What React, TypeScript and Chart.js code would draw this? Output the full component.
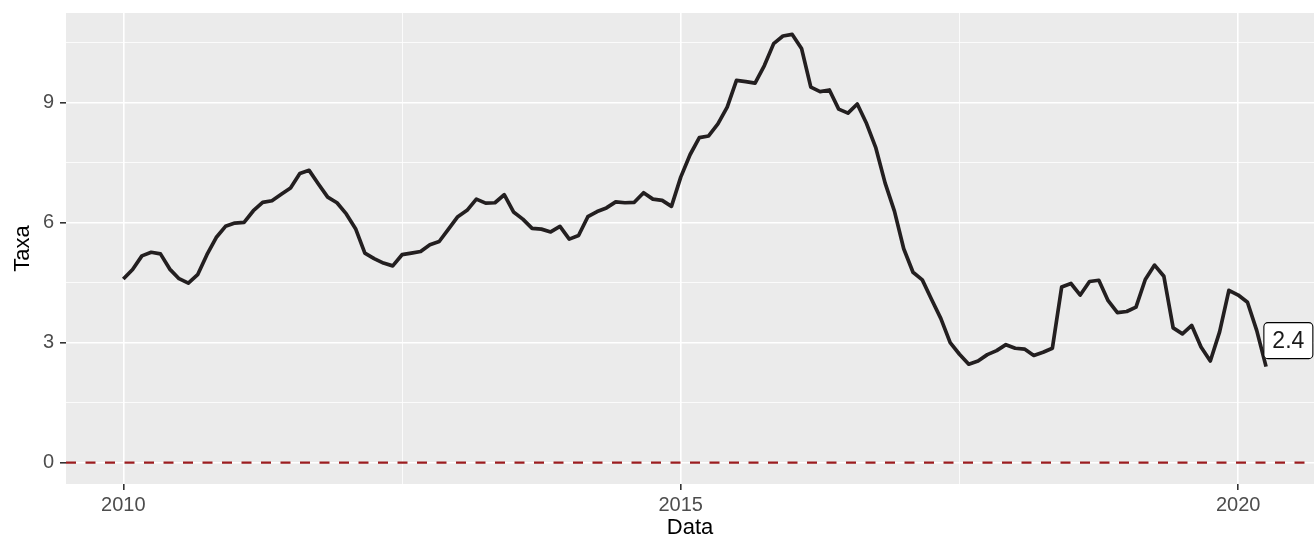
import React, { useEffect, useRef } from "react";
import { Chart, registerables } from "chart.js";

Chart.register(...registerables);

// IPCA 12-month rate, monthly, Jan 2010 .. Apr 2020
const startYear = 2010;
const rate2010 = [4.59, 4.83, 5.17, 5.26, 5.22, 4.84, 4.60, 4.49, 4.70, 5.20, 5.63, 5.91];
const rate2011 = [5.99, 6.01, 6.30, 6.51, 6.55, 6.71, 6.87, 7.23, 7.31, 6.97, 6.64, 6.50];
const rate2012 = [6.22, 5.85, 5.24, 5.10, 4.99, 4.92, 5.20, 5.24, 5.28, 5.45, 5.53, 5.84];
const rate2013 = [6.15, 6.31, 6.59, 6.49, 6.50, 6.70, 6.27, 6.09, 5.86, 5.84, 5.77, 5.91];
const rate2014 = [5.59, 5.68, 6.15, 6.28, 6.37, 6.52, 6.50, 6.51, 6.75, 6.59, 6.56, 6.41];
const rate2015 = [7.14, 7.70, 8.13, 8.17, 8.47, 8.89, 9.56, 9.53, 9.49, 9.93, 10.48, 10.67];
const rate2016 = [10.71, 10.36, 9.39, 9.28, 9.32, 8.84, 8.74, 8.97, 8.48, 7.87, 6.99, 6.29];
const rate2017 = [5.35, 4.76, 4.57, 4.08, 3.60, 3.00, 2.71, 2.46, 2.54, 2.70, 2.80, 2.95];
const rate2018 = [2.86, 2.84, 2.68, 2.76, 2.86, 4.39, 4.48, 4.19, 4.53, 4.56, 4.05, 3.75];
const rate2019 = [3.78, 3.89, 4.58, 4.94, 4.66, 3.37, 3.22, 3.43, 2.89, 2.54, 3.27, 4.31];
const rate2020 = [4.19, 4.01, 3.30, 2.40];

const yearlyRates = [rate2010, rate2011, rate2012, rate2013, rate2014, rate2015, rate2016, rate2017, rate2018, rate2019, rate2020];

const xMajorTicks = [2010, 2015, 2020];
const xMinorTicks = [2012.5, 2017.5];
const yMajorTicks = [0, 3, 6, 9];
const yMinorTicks = [1.5, 4.5, 7.5, 10.5];
const referenceLevel = 0;

const X_MIN = 2009.486;
const X_MAX = 2020.68;
const Y_MIN = -0.5355;
const Y_MAX = 11.2455;

const FONT = "'Liberation Sans', Arial, Helvetica, sans-serif";

function buildPoints() {
  const pts: { x: number; y: number }[] = [];
  yearlyRates.forEach((arr, yi) => {
    arr.forEach((v, m) => {
      pts.push({ x: startYear + yi + m / 12, y: v });
    });
  });
  return pts;
}

const panelBg = {
  id: "panelBg",
  beforeDraw(chart: any) {
    const { ctx, chartArea } = chart;
    ctx.save();
    ctx.fillStyle = "#EBEBEB";
    ctx.fillRect(chartArea.left, chartArea.top, chartArea.right - chartArea.left, chartArea.bottom - chartArea.top);
    ctx.restore();
  },
};

const lastLabel = {
  id: "lastLabel",
  afterDatasetsDraw(chart: any) {
    const { ctx, scales } = chart;
    const data = chart.data.datasets[1].data;
    const last = data[data.length - 1];
    const cx = scales.x.getPixelForValue(last.x + 0.2);
    const cy = scales.y.getPixelForValue(last.y + 0.65);
    const text = last.y.toFixed(1);
    ctx.save();
    ctx.font = `23px ${FONT}`;
    const tw = ctx.measureText(text).width;
    const w = tw + 17;
    const h = 36;
    const x0 = cx - w / 2;
    const y0 = cy - h / 2;
    const r = 4;
    ctx.beginPath();
    ctx.moveTo(x0 + r, y0);
    ctx.lineTo(x0 + w - r, y0);
    ctx.arcTo(x0 + w, y0, x0 + w, y0 + r, r);
    ctx.lineTo(x0 + w, y0 + h - r);
    ctx.arcTo(x0 + w, y0 + h, x0 + w - r, y0 + h, r);
    ctx.lineTo(x0 + r, y0 + h);
    ctx.arcTo(x0, y0 + h, x0, y0 + h - r, r);
    ctx.lineTo(x0, y0 + r);
    ctx.arcTo(x0, y0, x0 + r, y0, r);
    ctx.closePath();
    ctx.fillStyle = "#FFFFFF";
    ctx.fill();
    ctx.lineWidth = 1.1;
    ctx.strokeStyle = "#000000";
    ctx.stroke();
    ctx.fillStyle = "#1a1a1a";
    ctx.textAlign = "center";
    ctx.textBaseline = "middle";
    ctx.fillText(text, cx, cy + 1);
    ctx.restore();
  },
};

export default function App() {
  const ref = useRef<HTMLCanvasElement | null>(null);

  useEffect(() => {
    if (!ref.current) return;
    const points = buildPoints();
    const chart = new Chart(ref.current, {
      type: "line",
      data: {
        datasets: [
          {
            label: "zero",
            data: [
              { x: X_MIN, y: referenceLevel },
              { x: X_MAX, y: referenceLevel },
            ],
            borderColor: "#9B1C1F",
            borderWidth: 2.4,
            borderDash: [10, 9.5],
            pointRadius: 0,
            fill: false,
          },
          {
            label: "Taxa",
            data: points,
            borderColor: "#231F20",
            borderWidth: 3.7,
            borderJoinStyle: "round",
            pointRadius: 0,
            tension: 0,
            fill: false,
          },
        ],
      },
      options: {
        animation: false,
        responsive: false,
        maintainAspectRatio: false,
        layout: { padding: { top: 13, left: 0, right: 0, bottom: 0 } },
        plugins: {
          legend: { display: false },
          tooltip: { enabled: false },
        },
        scales: {
          x: {
            type: "linear",
            min: X_MIN,
            max: X_MAX,
            afterBuildTicks: (scale: any) => {
              scale.ticks = [...xMajorTicks, ...xMinorTicks].sort((a, b) => a - b).map((v) => ({ value: v }));
            },
            afterFit: (scale: any) => {
              scale.height = 60;
              scale.paddingLeft = 0;
              scale.paddingRight = 0;
            },
            border: { display: false },
            grid: {
              color: "#FFFFFF",
              lineWidth: (c: any) => (xMajorTicks.includes(c.tick?.value) ? 1.6 : 0.8),
              tickColor: (c: any) => (xMajorTicks.includes(c.tick?.value) ? "#333333" : "rgba(0,0,0,0)"),
              tickLength: 6,
              tickWidth: 1.6,
              drawTicks: true,
            },
            ticks: {
              autoSkip: false,
              maxRotation: 0,
              padding: 3,
              color: "#4D4D4D",
              font: { family: FONT, size: 20 },
              callback: (v: any) => (xMajorTicks.includes(Number(v)) ? String(v) : ""),
            },
            title: {
              display: true,
              text: "Data",
              color: "#000000",
              font: { family: FONT, size: 22 },
              padding: { top: 0, bottom: 3 },
            },
          },
          y: {
            type: "linear",
            min: Y_MIN,
            max: Y_MAX,
            afterBuildTicks: (scale: any) => {
              scale.ticks = [...yMajorTicks, ...yMinorTicks].sort((a, b) => a - b).map((v) => ({ value: v }));
            },
            afterFit: (scale: any) => {
              scale.width = 66;
              scale.paddingTop = 0;
              scale.paddingBottom = 0;
            },
            border: { display: false },
            grid: {
              color: "#FFFFFF",
              lineWidth: (c: any) => (yMajorTicks.includes(c.tick?.value) ? 1.6 : 0.8),
              tickColor: (c: any) => (yMajorTicks.includes(c.tick?.value) ? "#333333" : "rgba(0,0,0,0)"),
              tickLength: 6,
              tickWidth: 1.6,
              drawTicks: true,
            },
            ticks: {
              autoSkip: false,
              padding: 6,
              color: "#4D4D4D",
              font: { family: FONT, size: 20 },
              callback: (v: any) => (yMajorTicks.includes(Number(v)) ? String(v) : ""),
            },
            title: {
              display: true,
              text: "Taxa",
              color: "#000000",
              font: { family: FONT, size: 22 },
              padding: { top: 10, bottom: 0 },
            },
          },
        },
      },
      plugins: [panelBg, lastLabel],
    });
    return () => chart.destroy();
  }, []);

  return (
    <div style={{ position: "fixed", left: 0, top: 0, width: 1314, height: 544, background: "#FFFFFF" }}>
      <canvas ref={ref} width={1314} height={544} style={{ width: 1314, height: 544 }} />
    </div>
  );
}
